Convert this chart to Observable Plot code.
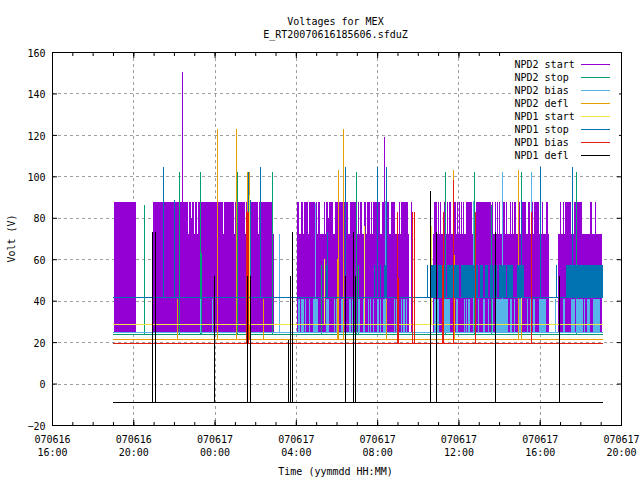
<!DOCTYPE html>
<html><head><meta charset="utf-8">
<script src="https://cdn.jsdelivr.net/npm/d3@7"></script>
<script src="https://cdn.jsdelivr.net/npm/@observablehq/plot@0.6"></script>
<style>
html,body{margin:0;padding:0;background:#fff}
#wrap{position:relative;width:640px;height:480px;overflow:hidden;font:10px "DejaVu Sans Mono",monospace;color:#000}
.abs{position:absolute;white-space:pre;line-height:13px}
svg{display:block}
</style></head><body><div id="wrap"></div>
<script>
// all times are hours counted from 070616 00:00
const titleLines = ["Voltages for MEX", "E_RT20070616185606.sfduZ"];
const xTitle = "Time (yymmdd HH:MM)";
const yTitle = "Volt (V)";
const majorHours = [16,20,24,28,32,36,40,44];
const minorHours = d3.range(16,45);
const yTicks = [-20,0,20,40,60,80,100,120,140,160];
const gridY = [0,20,40,60,80,100,120,140];
const traceSpan = [19.0,43.13];

const baseStart2 = 25, baseStop2 = 24, baseBias2 = 25, baseDefl2 = 21.5;
const baseStart1 = 28.8, baseStop1 = 42, baseBias1 = 19.6, baseDefl1 = -9;

// NPD2 start: dense switching drawn as solid runs
const start2Mid = [[19.04,20.13,87.5],[20.97,26.83,72],[26.83,26.93,72],[28.06,33.58,72],[34.76,40.47,72],[40.91,43.08,72]];
const start2High = [
[19.04,20.13],[20.97,22.71],[22.76,22.85],[22.89,23.0],[23.05,23.14],[23.18,24.43],[24.48,24.97],[25.02,25.51],[25.56,26.15],[26.2,26.83],
[28.06,28.16],[28.26,28.35],[28.4,28.6],[28.65,28.95],[29.0,29.05],[29.09,29.19],[29.39,29.44],[29.49,29.59],[29.64,29.83],[29.93,30.33],[30.38,30.58],[30.67,30.97],[31.06,31.11],[31.16,31.26],[31.36,31.46],[31.51,31.65],[31.7,31.75],[31.8,32.15],[32.25,32.59],[32.69,32.88],[33.08,33.13],[33.18,33.53],[33.67,33.72],
[34.81,34.96],[35.0,35.05],[35.1,35.15],[35.3,35.4],[35.45,35.5],[35.55,35.65],[35.75,35.89],[35.94,35.99],[36.04,36.09],[36.14,36.19],[36.24,36.29],[36.38,36.68],[36.88,37.62],[37.67,37.72],[37.82,37.87],[37.91,37.96],[38.01,38.06],[38.16,38.31],[38.35,38.4],[38.55,38.6],[38.65,38.7],[38.75,38.85],[39.0,39.04],[39.14,39.34],[39.44,39.54],[39.64,39.69],[39.74,39.98],[40.13,40.18],[40.33,40.43],
[41.01,41.06],[41.16,41.21],[41.26,41.56],[41.61,41.66],[41.71,42.1],[42.49,42.59],[42.74,42.79]];
const start2Notch = [[22.85,22.89,80],[29.59,29.64,80]];
const start2Spikes = [[22.41,150.5],[32.36,119]];

const stop2Spikes = [[20.54,86],[22.26,102],[23.3,102],[23.33,63],[25.1,102],[26.84,102],[29.24,57],[30.03,57],[30.98,102],[31.07,57],[35.32,102],[36.79,102],[37.62,86],[39.09,102],[41.77,102]];

const bias2Runs = [[28.11,28.21],[28.26,28.4],[28.45,28.5],[28.65,28.7],[28.85,29.09],[29.49,29.64],[29.89,29.93],[29.98,30.03],[30.23,30.38],[30.62,30.72],[30.77,30.87],[30.92,30.97],[31.06,31.16],[31.31,31.41],[31.56,31.6],[31.65,31.7],[31.8,31.85],[32.0,32.1],[32.15,32.2],[32.3,32.45],[32.84,32.89],[32.93,32.98],[33.18,33.23],[33.28,33.38],[33.43,33.48],
[34.81,35.05],[35.3,35.6],[35.89,35.99],[36.29,36.34],[36.38,36.43],[36.48,36.58],[36.98,37.02],[37.22,37.32],[37.47,37.52],[37.67,37.72],[37.87,38.45],[38.55,38.65],[38.75,38.8],[39.0,39.09],[39.39,39.44],[39.54,39.59],[39.69,39.79],[39.98,40.33],[40.73,40.78],[41.16,41.26],[41.56,41.76],[41.81,42.15],[42.2,42.25],[42.35,42.45],[42.64,42.98]];
const bias2Level = 41;
const bias2Spikes = [[23.3,41],[23.89,41],[25.66,88],[27.19,72],[28.92,87],[32.38,88],[36.72,88],[38.12,102],[39.56,102]];

const defl2Spikes = [[22.17,41],[24.13,123],[25.07,123],[25.6,102],[25.71,102],[26.36,41],[30.09,103],[30.34,123],[32.42,41],[35.71,103],[35.76,62],[38.92,103],[39.09,41]];
const defl2Runs = [[30.04,30.13,60]];

const start1Spikes = [[25.7,91],[29.37,60],[31.36,76],[34.64,76],[39.1,76]];

const stop1Spikes = [[21.47,104.5],[22.01,88.7],[25.66,102],[25.76,88.7],[26.25,104.5],[29.52,73],[30.44,104.5],[31.85,57],[31.97,104.5],[32.15,57],[32.46,104.5],[34.43,57],[39.08,88.7],[40.0,104.5],[40.78,57],[41.57,104.5]];
const stop1Level = 57;
const stop1Runs = [[29.5,29.6],[32.35,32.5],[34.66,34.96],[35.0,35.2],[35.3,35.4],[35.45,36.04],[36.14,36.98],[37.07,37.22],[37.32,37.47],[37.57,37.72],[37.77,37.91],[38.01,38.35],[38.4,38.71],[38.88,39.24],[41.31,43.13]];

const bias1Spikes = [[33.0,83],[33.71,83],[33.79,83],[35.22,83],[35.71,98],[36.82,83],[39.56,83]];
const bias1Runs = [[25.56,25.7,83],[33.0,33.08,51],[35.2,35.28,57]];

const defl1Spikes = [[20.9,73],[21.08,73],[23.99,52],[25.62,52],[25.72,52],[27.62,21],[27.69,52],[27.79,73],[30.44,52],[30.79,73],[30.93,52],[34.58,93],[34.92,73],[37.82,73],[40.93,52]];

const legendNames = ["NPD2 start","NPD2 stop","NPD2 bias","NPD2 defl","NPD1 start","NPD1 stop","NPD1 bias","NPD1 defl"];
const colors = {start2:"#9400d3",stop2:"#009e73",bias2:"#56b4e9",defl2:"#e69f00",start1:"#f0e442",stop1:"#0072b2",bias1:"#e51e10",defl1:"#000000"};
const legendColors = [colors.start2,colors.stop2,colors.bias2,colors.defl2,colors.start1,colors.stop1,colors.bias1,colors.defl1];

const T = h => new Date(Date.UTC(2007,5,16) + h*3600e3);
const pad = n => String(n).padStart(2,"0");
const fmtX = d => "0706"+pad(d.getUTCDate())+"\n"+pad(d.getUTCHours())+":00";
const crisp = {shapeRendering:"crispEdges"};
const spikes = (list, base, stroke) => Plot.ruleX(list,{x:d=>T(d[0]),y1:base,y2:d=>d[1],stroke,...crisp});
const runs = (list, base, top, fill) => Plot.rect(list,{x1:d=>T(d[0]),x2:d=>T(d[1]),y1:base,y2:d=>d.length>2?d[2]:top,fill,...crisp});
const base = (v, stroke) => Plot.ruleY([v],{x1:T(traceSpan[0]),x2:T(traceSpan[1]),stroke,...crisp});
const gridStyle = {stroke:"#a0a0a0",strokeOpacity:1,strokeDasharray:"3,3",...crisp};

const chart = Plot.plot({
  width:640,height:480,marginTop:52,marginBottom:55,marginLeft:52,marginRight:19,
  style:{background:"#fff",fontFamily:'"DejaVu Sans Mono",monospace',fontSize:"10px",color:"#000"},
  x:{type:"utc",domain:[T(16),T(44)]},
  y:{domain:[-20,160]},
  marks:[
    Plot.ruleX(majorHours.slice(1,-1).map(T),{...gridStyle}),
    Plot.ruleY(gridY,{...gridStyle}),
    runs(start2Mid,baseStart2,72,colors.start2),
    runs(start2High,baseStart2,87.5,colors.start2),
    runs(start2Notch,baseStart2,80,colors.start2),
    base(baseStart2,colors.start2), spikes(start2Spikes,baseStart2,colors.start2),
    base(baseStop2,colors.stop2), spikes(stop2Spikes,baseStop2,colors.stop2),
    runs(bias2Runs,baseBias2,bias2Level,colors.bias2),
    base(baseBias2,colors.bias2), spikes(bias2Spikes,baseBias2,colors.bias2),
    base(baseDefl2,colors.defl2), spikes(defl2Spikes,baseDefl2,colors.defl2),
    runs(defl2Runs,baseDefl2,60,colors.defl2),
    base(baseStart1,colors.start1), spikes(start1Spikes,baseStart1,colors.start1),
    runs(stop1Runs,baseStop1,stop1Level,colors.stop1),
    base(baseStop1,colors.stop1), spikes(stop1Spikes,baseStop1,colors.stop1),
    base(baseBias1,colors.bias1), spikes(bias1Spikes,baseBias1,colors.bias1),
    runs(bias1Runs,baseBias1,83,colors.bias1),
    base(baseDefl1,colors.defl1), spikes(defl1Spikes,baseDefl1,colors.defl1),
    Plot.axisX({anchor:"bottom",ticks:majorHours.map(T),tickSize:0,tickPadding:8,tickFormat:fmtX,label:null,lineHeight:1.3,fontSize:10}),
    Plot.axisY({anchor:"left",ticks:yTicks,tickSize:0,tickPadding:7,dy:1,label:null,fontSize:10,tickFormat:d=>String(d).replace("-","\u2212")}),
    Plot.axisX({anchor:"bottom",ticks:minorHours.map(T),tickSize:-3,text:null,label:null}),
    Plot.axisX({anchor:"top",ticks:minorHours.map(T),tickSize:-3,text:null,label:null}),
    Plot.axisX({anchor:"bottom",ticks:majorHours.map(T),tickSize:-5,text:null,label:null}),
    Plot.axisX({anchor:"top",ticks:majorHours.map(T),tickSize:-5,text:null,label:null}),
    Plot.axisY({anchor:"left",ticks:yTicks,tickSize:-5,text:null,label:null}),
    Plot.axisY({anchor:"right",ticks:yTicks,tickSize:-5,text:null,label:null}),
    Plot.frame({stroke:"#000",...crisp})
  ]
});
const wrap = document.getElementById("wrap");
wrap.appendChild(chart);
const add = (css,text,parent=wrap) => {const e=document.createElement("div");e.className="abs";e.style.cssText=css;e.textContent=text;parent.appendChild(e);return e;};
titleLines.forEach((t,i)=>add(`left:0;width:671px;text-align:center;top:${15+i*12.5}px`,t));
add("left:0;width:671px;text-align:center;top:465px",xTitle);
add("left:-39px;width:100px;text-align:center;top:232px;transform:rotate(-90deg)",yTitle);
const key = add("left:513px;top:53px;width:106px;height:111px;background:#fff","");
legendNames.forEach((n,i)=>{
  add(`left:1.5px;top:${4.5+i*13}px`,n,key);
  add(`left:68px;width:29px;height:1px;top:${10.5+i*13}px;background:${legendColors[i]}`,"",key);
});
</script></body></html>
